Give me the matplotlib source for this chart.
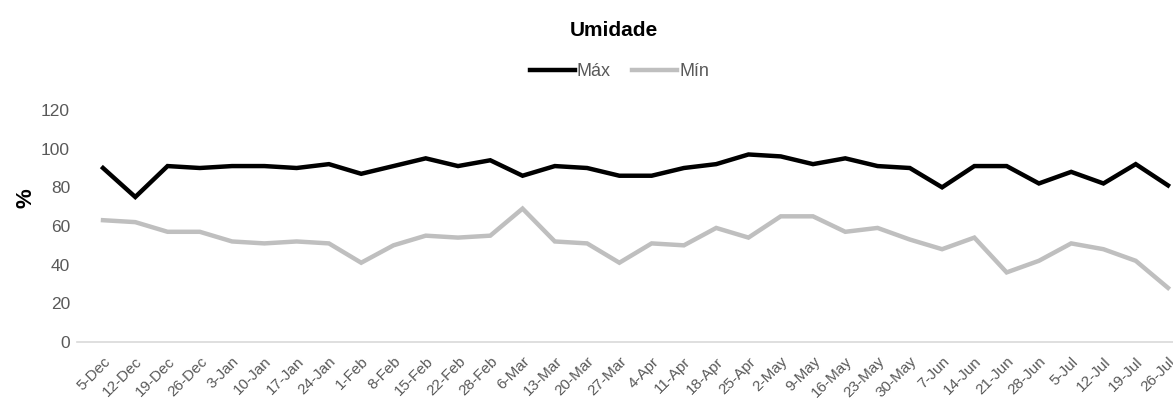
import matplotlib.pyplot as plt

dates = ["5-Dec", "12-Dec", "19-Dec", "26-Dec", "3-Jan", "10-Jan", "17-Jan", "24-Jan",
         "1-Feb", "8-Feb", "15-Feb", "22-Feb", "28-Feb", "6-Mar", "13-Mar", "20-Mar",
         "27-Mar", "4-Apr", "11-Apr", "18-Apr", "25-Apr", "2-May", "9-May", "16-May",
         "23-May", "30-May", "7-Jun", "14-Jun", "21-Jun", "28-Jun", "5-Jul", "12-Jul",
         "19-Jul", "26-Jul"]

umid_max = [90, 75, 91, 90, 91, 91, 90, 92, 87, 91, 95, 91, 94, 86, 91, 90,
            86, 86, 90, 92, 97, 96, 92, 95, 91, 90, 80, 91, 91, 82, 88, 82, 92, 81]
umid_min = [63, 62, 57, 57, 52, 51, 52, 51, 41, 50, 55, 54, 55, 69, 52, 51,
            41, 51, 50, 59, 54, 65, 65, 57, 59, 53, 48, 54, 36, 42, 51, 48, 42, 28]

plt.rcParams['font.family'] = ['Liberation Sans', 'DejaVu Sans']

fig = plt.figure(figsize=(11.73, 4.11), dpi=100)
ax = fig.add_axes([77 / 1173, 69 / 411, 1 - 77 / 1173, 232 / 411])

x = list(range(len(dates)))
ax.plot(x, umid_max, color="black", lw=3.2, label="Máx", solid_joinstyle="miter")
ax.plot(x, umid_min, color="#BFBFBF", lw=3.2, label="Mín", solid_joinstyle="miter")

ax.set_ylim(0, 120)
ax.set_yticks(range(0, 121, 20))
ax.set_xlim(-0.806, 33.155)
ax.set_xticks(x)
ax.set_xticklabels(dates, rotation=45, ha="right", rotation_mode="anchor")
ax.tick_params(axis="both", length=0, colors="#595959")
ax.tick_params(axis="y", labelsize=12.5, pad=5)
ax.tick_params(axis="x", labelsize=11, pad=9)

for s in ["top", "right", "left"]:
    ax.spines[s].set_visible(False)
ax.spines["bottom"].set_color("#D9D9D9")
ax.spines["bottom"].set_linewidth(1.2)

fig.text(0.022, 0.518, "%", rotation=90, fontsize=16, fontweight="bold",
         ha="center", va="center")
fig.text(0.523, 0.925, "Umidade", fontsize=15, fontweight="bold",
         ha="center", va="center")
fig.legend(loc="center", bbox_to_anchor=(0.528, 0.825), ncol=2, frameon=False,
           fontsize=13, handlelength=2.5, handletextpad=0.1, columnspacing=1.2,
           labelcolor="#595959")

fig.savefig("out.png", dpi=100)
